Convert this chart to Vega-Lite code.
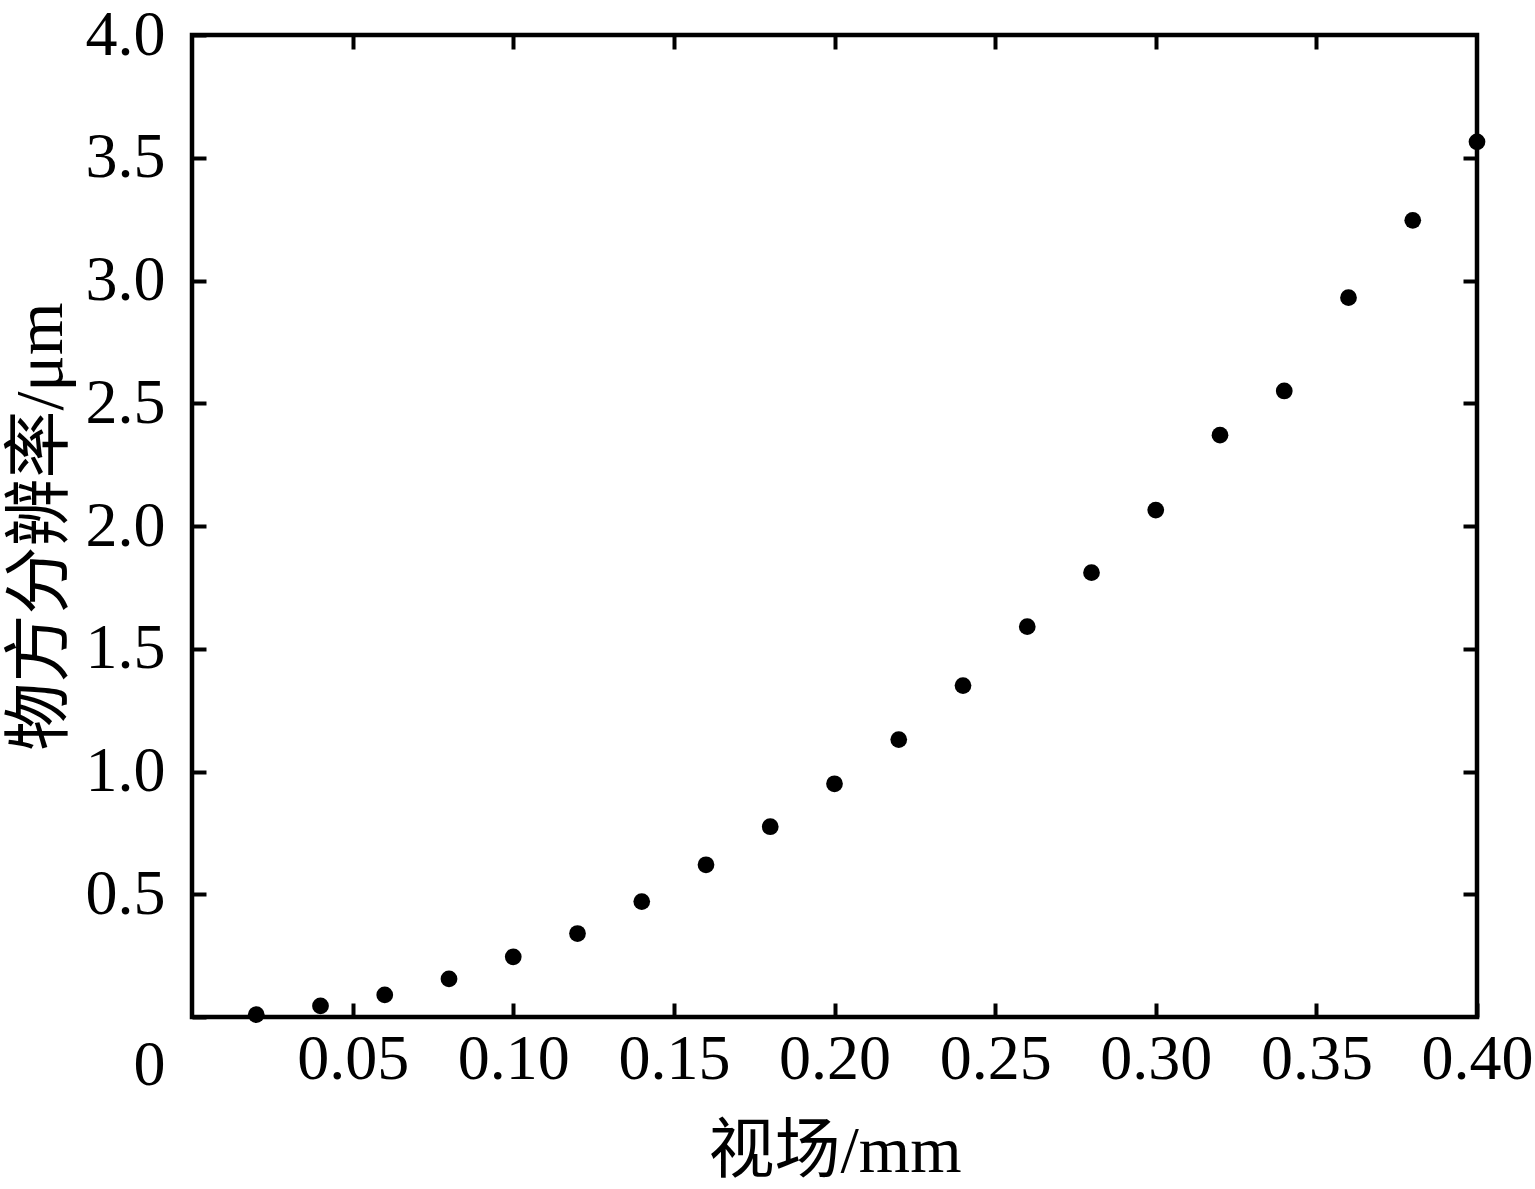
{
  "$schema": "https://vega.github.io/schema/vega-lite/v6.json",
  "autosize": "none",
  "width": 1285,
  "height": 982,
  "padding": {"left": 192, "top": 35, "right": 58, "bottom": 172},
  "background": "white",
  "config": {
    "view": {"stroke": "black", "strokeWidth": 4.5},
    "font": "Liberation Serif, Noto Sans CJK SC",
    "axis": {
      "domain": false,
      "grid": false,
      "tickColor": "black",
      "tickWidth": 4,
      "tickSize": -14,
      "labelFont": "Liberation Serif",
      "labelFontSize": 64,
      "labelColor": "black",
      "labelOverlap": false,
      "labelFlush": false,
      "titleFont": "Liberation Serif, Noto Sans CJK SC",
      "titleFontSize": 66,
      "titleFontWeight": "normal",
      "titleColor": "black"
    }
  },
  "data": {
    "values": [
      {"fov": 0.02, "res": 0.01},
      {"fov": 0.04, "res": 0.045},
      {"fov": 0.06, "res": 0.09},
      {"fov": 0.08, "res": 0.155},
      {"fov": 0.10, "res": 0.245},
      {"fov": 0.12, "res": 0.34},
      {"fov": 0.14, "res": 0.47},
      {"fov": 0.16, "res": 0.62},
      {"fov": 0.18, "res": 0.775},
      {"fov": 0.20, "res": 0.95},
      {"fov": 0.22, "res": 1.13},
      {"fov": 0.24, "res": 1.35},
      {"fov": 0.26, "res": 1.59},
      {"fov": 0.28, "res": 1.81},
      {"fov": 0.30, "res": 2.065},
      {"fov": 0.32, "res": 2.37},
      {"fov": 0.34, "res": 2.55},
      {"fov": 0.36, "res": 2.93},
      {"fov": 0.38, "res": 3.245},
      {"fov": 0.40, "res": 3.565}
    ]
  },
  "layer": [
    {
      "mark": {"type": "point", "filled": true, "color": "black", "opacity": 1, "size": 280, "clip": false},
      "encoding": {
        "x": {
          "field": "fov", "type": "quantitative",
          "scale": {"domain": [0, 0.4], "nice": false, "zero": false},
          "axis": {
            "orient": "bottom",
            "title": "视场/mm",
            "titleFontSize": 66,
            "values": [0.05, 0.1, 0.15, 0.2, 0.25, 0.3, 0.35, 0.4],
            "labelExpr": "format(datum.value, '.2f')",
            "labelPadding": 24,
            "titlePadding": 28
          }
        },
        "y": {
          "field": "res", "type": "quantitative",
          "scale": {"domain": [0, 4], "nice": false},
          "axis": {
            "orient": "left",
            "title": "物方分辨率/μm",
            "titleFontSize": 68,
            "values": [0, 0.5, 1, 1.5, 2, 2.5, 3, 3.5, 4],
            "labelExpr": "datum.value == 0 ? '0' : format(datum.value, '.1f')",
            "labelOffset": {"condition": {"test": "datum.value == 0", "value": 48}, "value": 0},
            "labelPadding": 41,
            "titlePadding": 10
          }
        }
      }
    },
    {
      "mark": {"type": "point", "filled": true, "color": "black", "opacity": 0, "size": 1},
      "encoding": {
        "x": {
          "field": "fov", "type": "quantitative",
          "scale": {"domain": [0, 0.4], "nice": false, "zero": false},
          "axis": {"orient": "top", "title": null, "labels": false, "values": [0.05, 0.1, 0.15, 0.2, 0.25, 0.3, 0.35]}
        },
        "y": {
          "field": "res", "type": "quantitative",
          "scale": {"domain": [0, 4], "nice": false},
          "axis": {"orient": "right", "title": null, "labels": false, "values": [0.5, 1, 1.5, 2, 2.5, 3, 3.5]}
        }
      }
    }
  ],
  "resolve": {"axis": {"x": "independent", "y": "independent"}}
}
